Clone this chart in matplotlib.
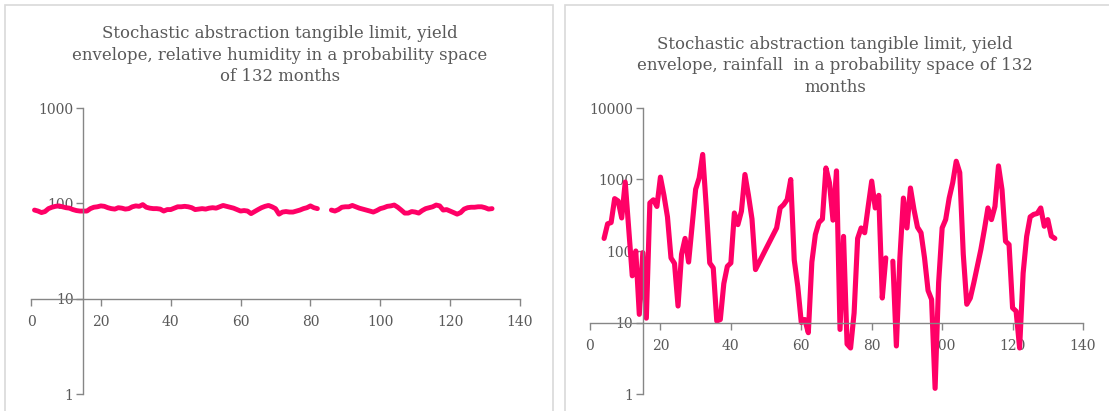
import numpy as np
import matplotlib
matplotlib.use("Agg")
import matplotlib.pyplot as plt
from matplotlib.patches import Rectangle

# monthly relative humidity (months 83-85 missing)
months_rh = np.arange(1, 133)
humidity = [
    85, 83, 80, 82, 88, 91, 93, 94, 92, 90, 89, 86, 84, 83, 83, 83, 88, 91, 92, 94,
    93, 90, 88, 87, 90, 89, 87, 88, 92, 94, 93, 97, 91, 89, 88, 88, 87, 83, 86, 86,
    89, 92, 92, 93, 92, 90, 86, 87, 88, 87, 89, 90, 89, 92, 95, 93, 91, 89, 86, 83,
    84, 83, 78, 82, 86, 90, 93, 95, 92, 88, 77, 81, 82, 81, 81, 83, 85, 88, 90, 94,
    90, 88, np.nan, np.nan, np.nan, 85, 83, 86, 91, 92, 92, 95, 92, 89, 87, 85, 83, 81, 84, 88,
    90, 93, 94, 96, 91, 85, 79, 79, 82, 81, 79, 84, 88, 90, 92, 96, 94, 85, 86, 83,
    80, 77, 80, 87, 90, 91, 91, 92, 92, 90, 87, 88,
]

# monthly rainfall from month 4 (month 85 missing)
months_rf = np.arange(4, 133)
rainfall = [
    150, 240, 250, 540, 500, 290, 920, 200, 45, 100, 13, 95, 11.5, 470, 520, 420, 1080,
    600, 300, 80, 67, 17, 90, 150, 70, 230, 730, 1050, 2240, 425, 68, 58, 10.5, 11, 35,
    61, 68, 340, 234, 360, 1175, 600, 280, 55, 69, 86, 108, 135, 168, 210, 400, 445, 525,
    1000, 75, 32, 10, 11, 7.2, 70, 170, 250, 280, 1450, 900, 270, 1320, 8, 160, 5, 4.4,
    13.6, 150, 210, 180, 420, 950, 400, 600, 22, 80, np.nan, 72, 4.7, 80, 550, 210, 760,
    380, 215, 180, 80, 28, 21, 1.2, 36, 210, 275, 550, 900, 1800, 1250, 90, 18, 22, 36,
    62, 105, 200, 400, 275, 420, 1550, 720, 137, 123, 16, 14.4, 4.4, 49, 160, 300, 325,
    335, 400, 222, 275, 162, 150,
]

title_rh = ("Stochastic abstraction tangible limit, yield\n"
            "envelope, relative humidity in a probability space\n"
            "of 132 months")
title_rf = ("Stochastic abstraction tangible limit, yield\n"
            "envelope, rainfall  in a probability space of 132\n"
            "months")

PINK = "#FF0066"
GREY_TXT = "#595959"
GREY_AX = "#868686"

plt.rcParams["font.family"] = "DejaVu Serif"

W, H = 1109, 411
fig = plt.figure(figsize=(W / 100, H / 100), dpi=100)


def px_box(x0, y0, x1, y1):
    return [x0 / W, 1 - y1 / H, (x1 - x0) / W, (y1 - y0) / H]


# chart area frames
for x0, x1 in [(5, 553), (565, 1120)]:
    fig.add_artist(Rectangle((x0 / W, -0.05), (x1 - x0) / W, 1 - 5 / H + 0.05,
                             transform=fig.transFigure, fill=False,
                             edgecolor="#D9D9D9", linewidth=1.2))


def style_axes(ax, ymax):
    ax.set_xlim(0, 140)
    ax.set_yscale("log")
    ax.set_ylim(1, ymax)
    ax.patch.set_visible(False)
    for side in ["top", "right"]:
        ax.spines[side].set_visible(False)
    ax.spines["left"].set_position(("data", 15))
    ax.spines["bottom"].set_position(("data", 10))
    for side in ["left", "bottom"]:
        ax.spines[side].set_color(GREY_AX)
        ax.spines[side].set_linewidth(1.0)
    ax.set_xticks(range(0, 141, 20))
    ax.set_xticklabels([str(v) for v in range(0, 141, 20)])
    yt = [10 ** k for k in range(int(np.log10(ymax)) + 1)]
    ax.set_yticks(yt)
    ax.set_yticklabels([str(v) for v in yt])
    ax.minorticks_off()
    ax.tick_params(axis="both", colors=GREY_AX, labelcolor=GREY_TXT,
                   labelsize=10, length=5, width=1.0)
    ax.tick_params(axis="x", pad=7)
    ax.tick_params(axis="y", pad=2)


ax1 = fig.add_axes(px_box(31, 108, 520, 394))
style_axes(ax1, 1000)
ax1.plot(months_rh, humidity, color=PINK, lw=3.5,
         solid_capstyle="round", solid_joinstyle="round", clip_on=False)

ax2 = fig.add_axes(px_box(590, 108, 1083, 394))
style_axes(ax2, 10000)
ax2.plot(months_rf, rainfall, color=PINK, lw=3.7,
         solid_capstyle="round", solid_joinstyle="round", clip_on=False)

fig.text(280 / W, 1 - 55 / H, title_rh, ha="center", va="center",
         multialignment="center", fontsize=11.9, color=GREY_TXT, linespacing=1.35)
fig.text(835 / W, 1 - 66 / H, title_rf, ha="center", va="center",
         multialignment="center", fontsize=11.9, color=GREY_TXT, linespacing=1.35)

fig.savefig("out.png", dpi=100)
